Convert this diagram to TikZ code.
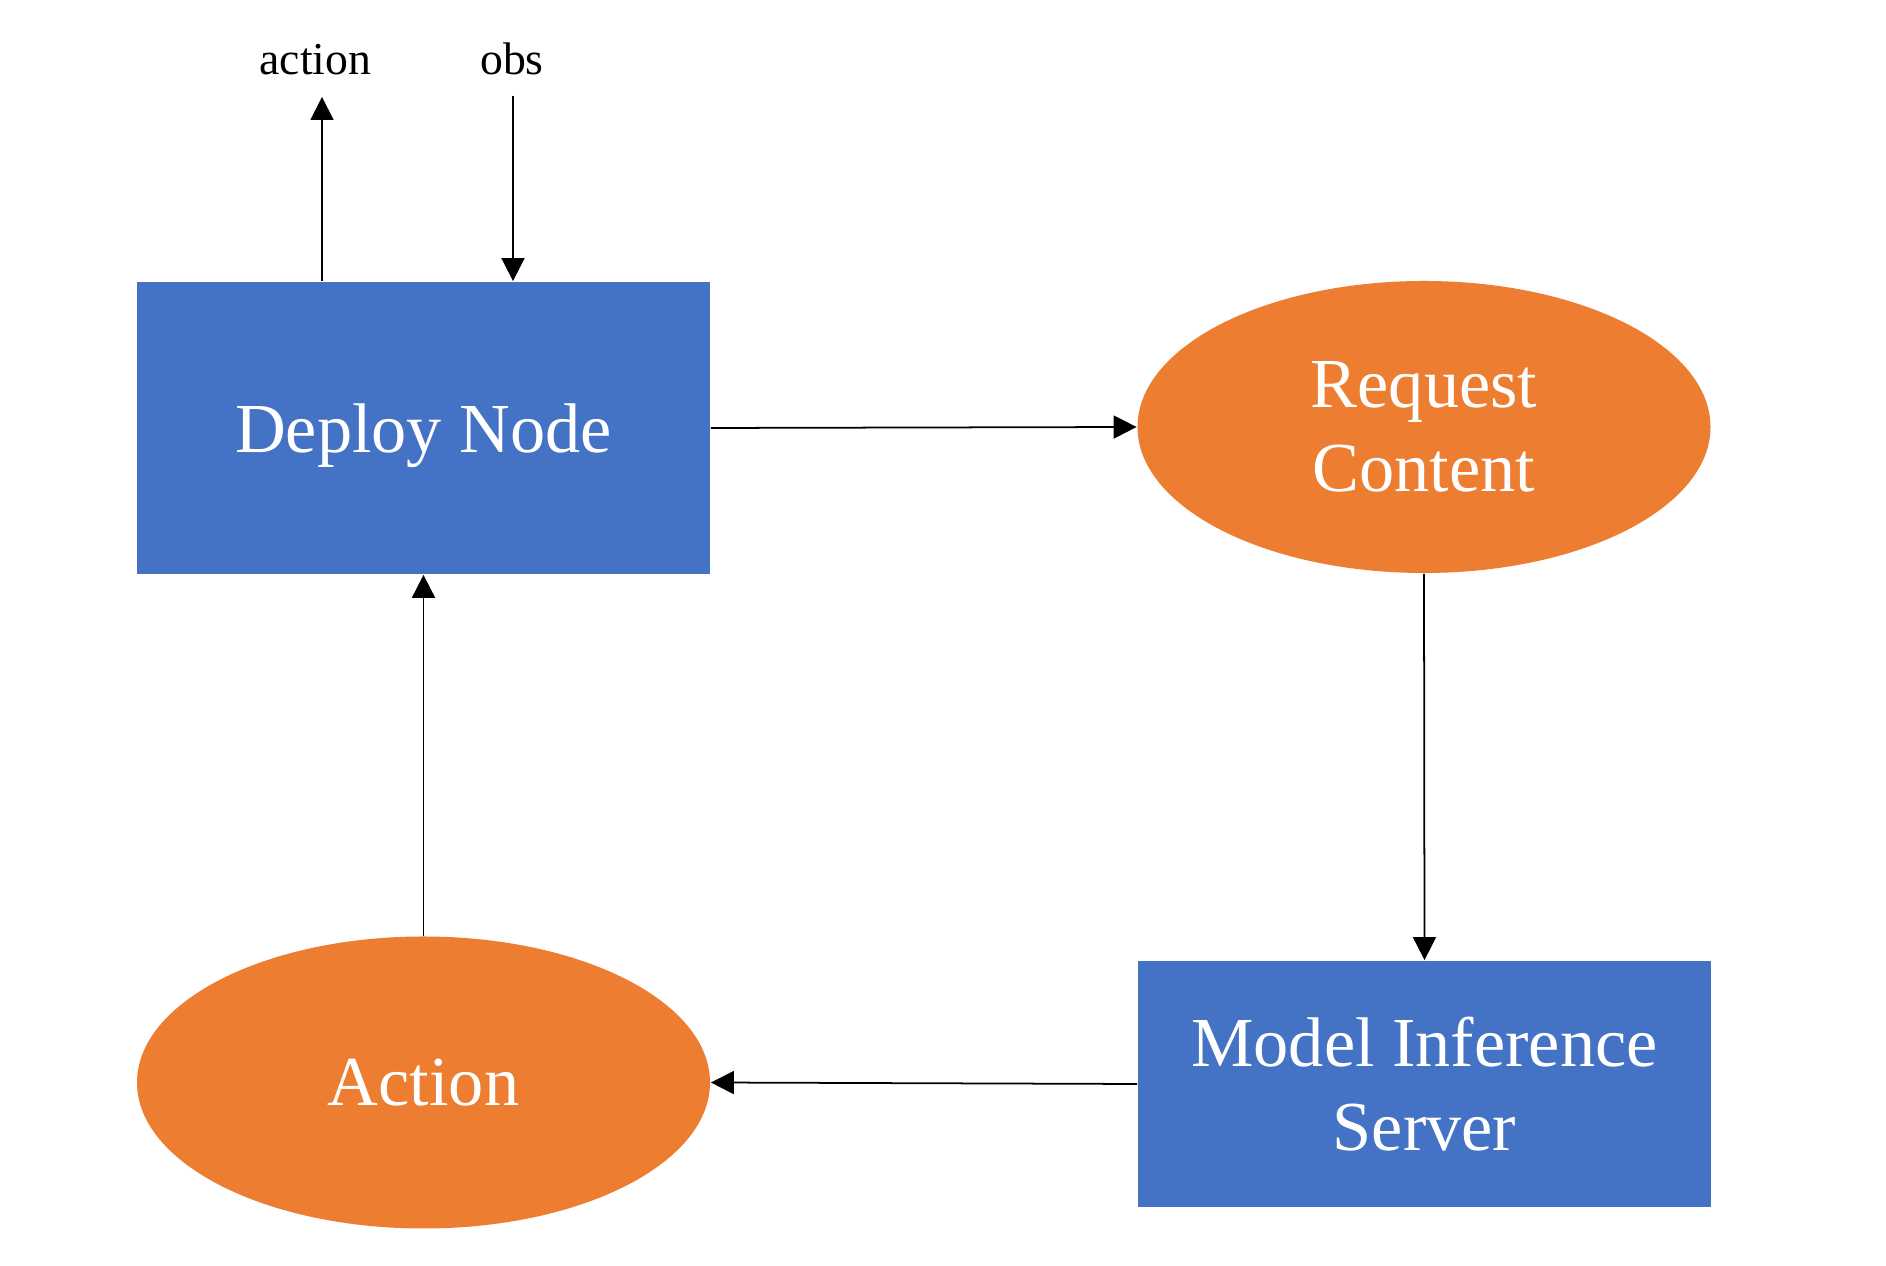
\documentclass[tikz,border=0pt]{standalone}
\usepackage{fontspec}
\setmainfont{Liberation Serif}
\usepackage{tikz}
\usetikzlibrary{shapes.geometric,arrows.meta}

\definecolor{boxblue}{HTML}{4472C4}
\definecolor{ovalorange}{HTML}{ED7D31}

\begin{document}
\begin{tikzpicture}[>={Triangle[length=0.46cm,width=0.46cm]},line width=1pt,
	every node/.style={inner sep=0pt,align=center,font=\fontsize{40}{48}\selectfont},
	box/.style={rectangle,fill=boxblue,text=white,minimum width=11.46cm},
	oval/.style={ellipse,fill=ovalorange,text=white,minimum width=11.46cm,minimum height=5.84cm},
	lbl/.style={anchor=base,font=\fontsize{26}{30}\selectfont}]
	\useasboundingbox (0,0) rectangle (37.72,25.32);

	\node[box,minimum height=5.84cm,text depth=0pt] (deploy) at (8.47,16.76) {Deploy Node};
	\node[oval] (request) at (28.48,16.78) {Request\\Content};
	\node[box,minimum height=4.92cm] (server) at (28.49,3.64) {Model Inference\\Server};
	\node[oval] (act) at (8.47,3.67) {Action};

	\node[lbl] (actlbl) at (6.31,23.82) {action};
	\node[lbl] (obslbl) at (10.24,23.82) {obs};
	\coordinate (acttip) at (6.44,23.38);
	\coordinate (obstail) at (10.26,23.40);

	\foreach \from/\to in {deploy.east/request.west,request.south/server.north,server.west/act.east,act.north/deploy.south}
		\draw[->] (\from) -- (\to);

	\draw[->] (deploy.north -| acttip) -- (acttip);
	\draw[->] (obstail) -- (deploy.north -| obstail);
\end{tikzpicture}
\end{document}
